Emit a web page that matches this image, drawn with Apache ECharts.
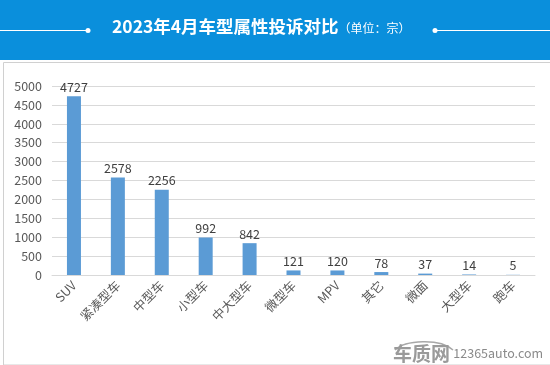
<!DOCTYPE html>
<html><head><meta charset="utf-8">
<script src="https://cdn.jsdelivr.net/npm/echarts@6/dist/echarts.min.js"></script>
<style>html,body{margin:0;padding:0;background:#fff}#c{width:550px;height:365px}</style>
</head><body><div id="c"></div>
<script>
var categories = ['SUV','紧凑型车','中型车','小型车','中大型车','微型车','MPV','其它','微面','大型车','跑车'];
var values = [4727,2578,2256,992,842,121,120,78,37,14,5];
var yTicks = [0,500,1000,1500,2000,2500,3000,3500,4000,4500,5000];

var chart = echarts.init(document.getElementById('c'), null, {renderer:'canvas'});
var font = '"Microsoft YaHei","Noto Sans CJK SC","Noto Sans",sans-serif';
chart.setOption({
  animation:false,
  textStyle:{fontFamily:font},
  graphic:[
    {type:'rect',left:0,top:0,shape:{width:550,height:60},style:{fill:'#0a8fdc'},z:-1},
    {type:'rect',left:1,top:60,shape:{width:547,height:302.5},style:{fill:'none',stroke:'#d0d0d0',lineWidth:1},z:-1},
    {type:'line',shape:{x1:0,y1:30.5,x2:88,y2:30.5},style:{stroke:'#ffffff',lineWidth:1}},
    {type:'circle',shape:{cx:88,cy:30.5,r:2.5},style:{fill:'#ffffff'}},
    {type:'line',shape:{x1:435,y1:30.5,x2:550,y2:30.5},style:{stroke:'#ffffff',lineWidth:1}},
    {type:'circle',shape:{cx:435,cy:30.5,r:2.5},style:{fill:'#ffffff'}},
    {type:'text',left:112,top:18,style:{
      text:'{a|2023年4月车型属性投诉对比}{b|（单位：宗）}',
      rich:{a:{fontSize:17.5,fontWeight:'bold',fill:'#ffffff',fontFamily:font},
            b:{fontSize:12,fill:'#ffffff',fontFamily:font,padding:[3,0,0,0]}}}},
    {type:'bezierCurve',shape:{x1:395,y1:350,cpx1:405,cpy1:340,cpx2:440,cpy2:338,x2:453,y2:350},
      style:{fill:'none',stroke:'#a8a8a8',lineWidth:1.5}},
    {type:'text',left:393,top:344,style:{
      text:'{a|车质网} {b|12365auto.com}',
      rich:{a:{fontSize:19,fontWeight:'bold',fill:'#9a9a9a',fontFamily:font},
            b:{fontSize:12.5,fill:'#8a8a8a',fontFamily:font}}}}
  ],
  grid:{left:52,right:15,top:86,bottom:90,containLabel:false},
  xAxis:{type:'category',data:categories,
    axisLine:{lineStyle:{color:'#d9d9d9'}},axisTick:{show:false},
    axisLabel:{rotate:45,color:'#595959',fontSize:12.5,interval:0,margin:8}},
  yAxis:{type:'value',min:0,max:5000,interval:500,
    axisLine:{show:false},axisTick:{show:false},
    splitLine:{lineStyle:{color:'#d9d9d9'}},
    axisLabel:{color:'#595959',fontSize:12.5,margin:10,
      formatter:function(v){return yTicks.indexOf(v)>=0?String(v):'';}}},
  series:[{type:'bar',data:values,barWidth:14,
    itemStyle:{color:'#5b9bd5'},
    label:{show:true,position:'top',color:'#404040',fontSize:12.5,distance:3}}]
});
</script></body></html>
